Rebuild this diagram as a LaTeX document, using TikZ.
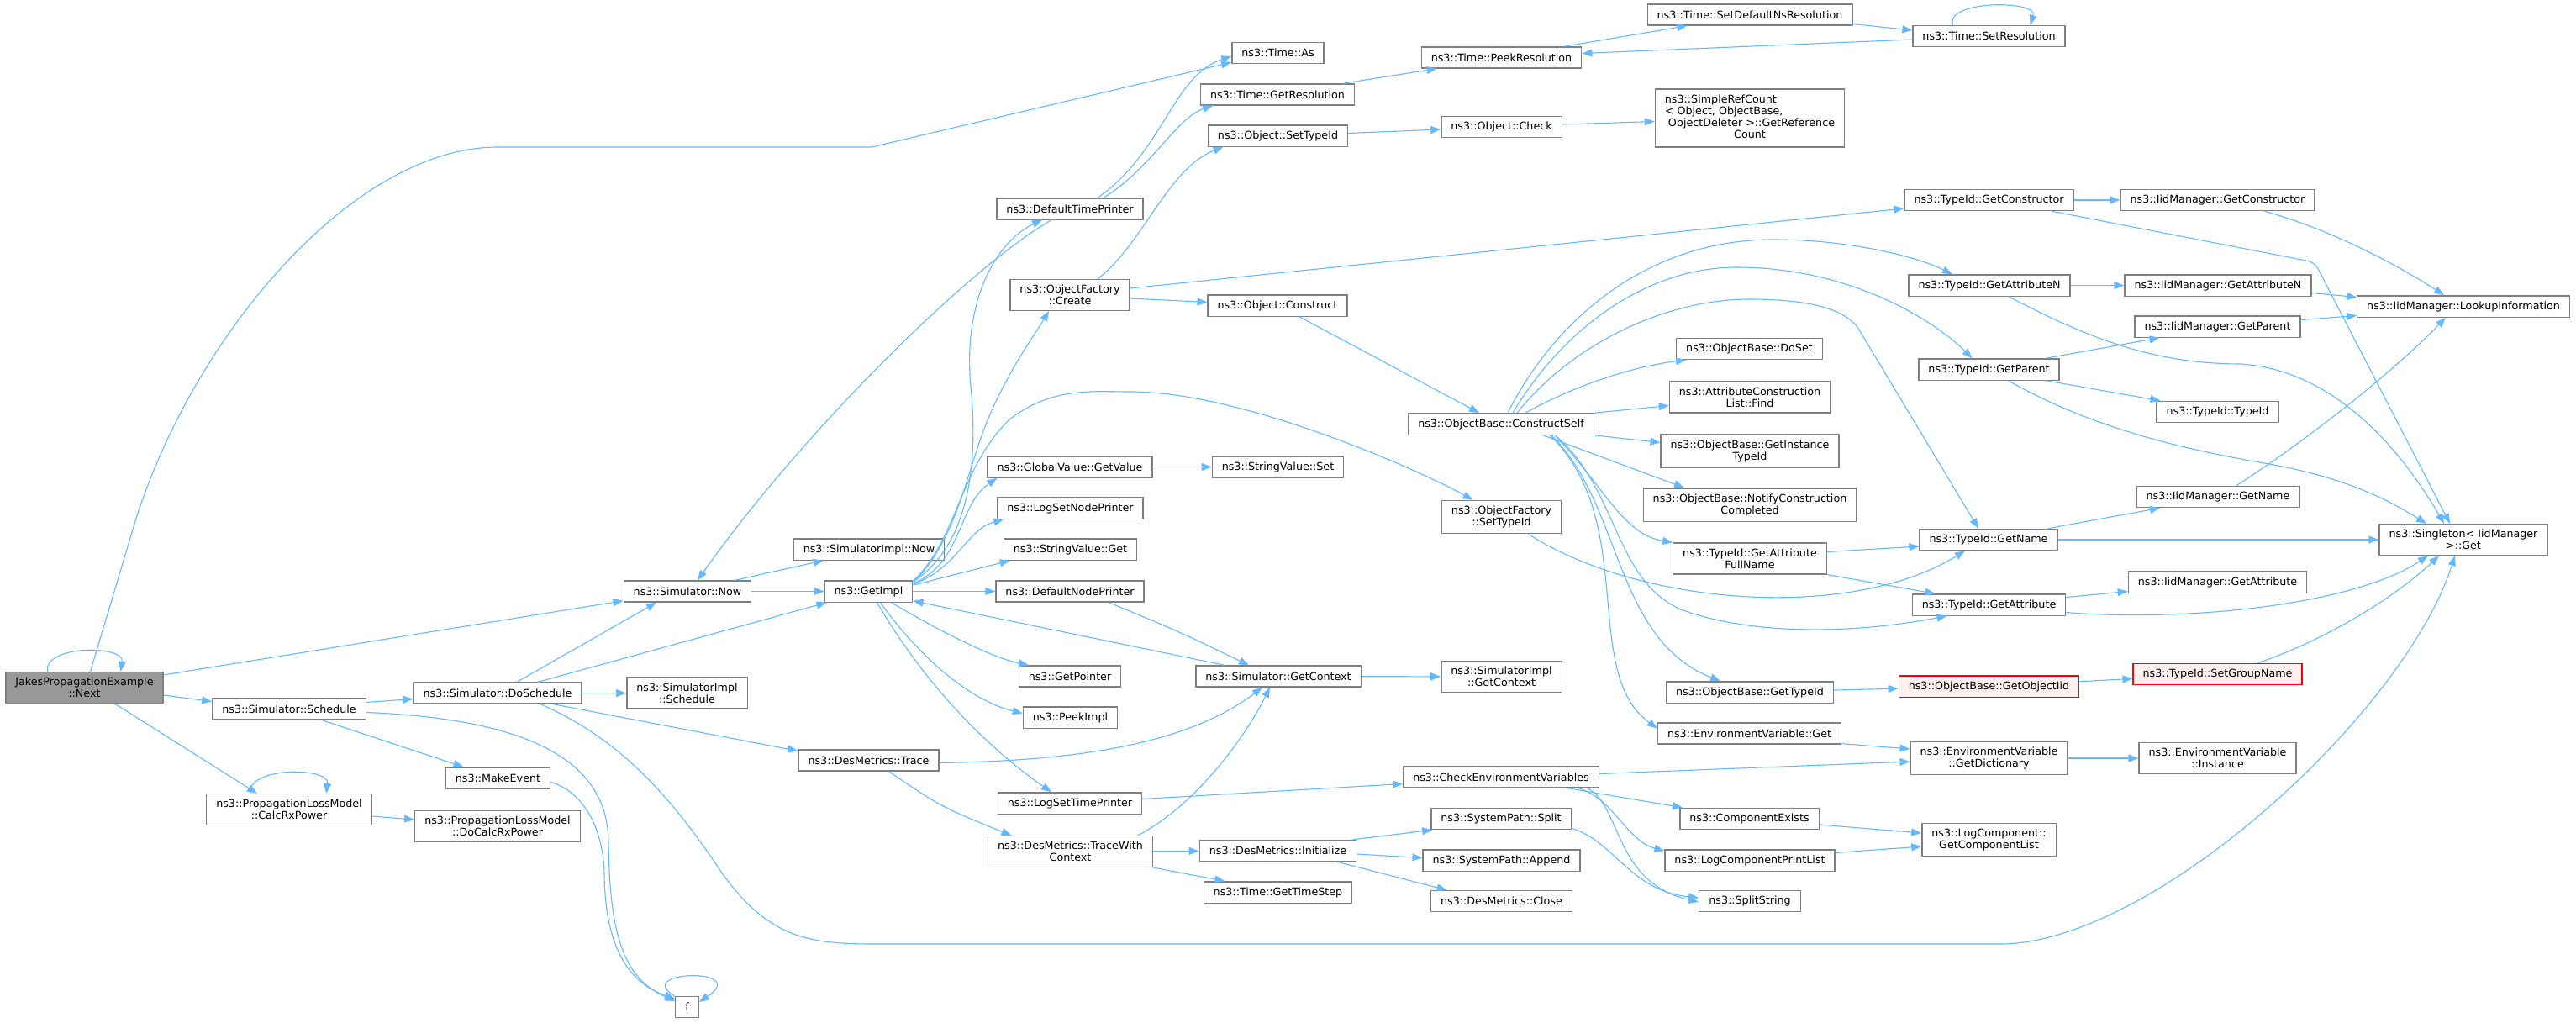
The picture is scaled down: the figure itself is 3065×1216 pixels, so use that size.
\documentclass[tikz,border=0pt]{standalone}
\usepackage{fontspec}
\setmainfont{DejaVu Sans}
\usetikzlibrary{arrows.meta}

\definecolor{edgeblue}{HTML}{63B8FF}
\definecolor{boxgray}{HTML}{7F7F7F}
\definecolor{rootgray}{HTML}{999999}
\definecolor{warnred}{HTML}{FF0000}
\definecolor{warnfill}{HTML}{FFF0F0}

\begin{document}
\begin{tikzpicture}
    % Estilos para funciones y llamadas
    \tikzset{
      func/.style={
        draw=boxgray, line width=1.3pt, fill=white, align=center,
        font=\fontsize{12.7}{14}\selectfont,
        inner xsep=11.5pt, inner ysep=6.5pt, minimum height=25pt
      },
      rootfunc/.style={func, fill=rootgray},
      warnfunc/.style={func, draw=warnred, fill=warnfill},
      callarrow/.style={
        draw=edgeblue, line width=1.1pt,
        -{Triangle[length=12pt, width=9pt]}
      }
    }

    \begin{scope}[x=1pt, y=-1pt]
      \useasboundingbox (0,0) rectangle (3065,1216);

      % Columna 1-3
      \node[rootfunc] (next) at (100.5,818) {JakesPropagationExample\\::Next};
      \node[func] (schedule) at (344,843.5) {ns3::Simulator::Schedule};
      \node[func] (calcrx) at (344,963) {ns3::PropagationLossModel\\::CalcRxPower};
      \node[func] (dosched) at (592,824.5) {ns3::Simulator::DoSchedule};
      \node[func] (makeevent) at (592.5,925.5) {ns3::MakeEvent};
      \node[func] (docalcrx) at (592,983) {ns3::PropagationLossModel\\::DoCalcRxPower};

      % Columna 4-5
      \node[func] (simnow) at (818,703.5) {ns3::Simulator::Now};
      \node[func] (implsched) at (817.5,824.5) {ns3::SimulatorImpl\\::Schedule};
      \node[func] (f) at (817.5,1198) {f};
      \node[func] (implnow) at (1034,653.5) {ns3::SimulatorImpl::Now};
      \node[func] (getimpl) at (1033.5,703.5) {ns3::GetImpl};
      \node[func] (dmtrace) at (1033.5,904.5) {ns3::DesMetrics::Trace};

      % Columna 6
      \node[func] (deftime) at (1273,248.5) {ns3::DefaultTimePrinter};
      \node[func] (ofcreate) at (1273,351) {ns3::ObjectFactory\\::Create};
      \node[func] (gvget) at (1273,555.5) {ns3::GlobalValue::GetValue};
      \node[func] (lognode) at (1273.5,604.5) {ns3::LogSetNodePrinter};
      \node[func] (svget) at (1273.5,653.5) {ns3::StringValue::Get};
      \node[func] (defnode) at (1273,703.5) {ns3::DefaultNodePrinter};
      \node[func] (getpointer) at (1273,804.5) {ns3::GetPointer};
      \node[func] (peekimpl) at (1273.5,853.5) {ns3::PeekImpl};
      \node[func] (logtime) at (1273,955.5) {ns3::LogSetTimePrinter};
      \node[func] (tracewc) at (1273.5,1013) {ns3::DesMetrics::TraceWith\\Context};

      % Columna 7
      \node[func] (timeas) at (1520.5,63) {ns3::Time::As};
      \node[func] (getres) at (1520,112.5) {ns3::Time::GetResolution};
      \node[func] (objsettid) at (1520.5,161.5) {ns3::Object::SetTypeId};
      \node[func] (objconstruct) at (1520,363.5) {ns3::Object::Construct};
      \node[func] (svset) at (1520.5,555.5) {ns3::StringValue::Set};
      \node[func] (getctx) at (1521,804.5) {ns3::Simulator::GetContext};
      \node[func] (dminit) at (1520.5,1012) {ns3::DesMetrics::Initialize};
      \node[func] (timestep) at (1520.5,1061.5) {ns3::Time::GetTimeStep};

      % Columna 8
      \node[func] (peekres) at (1786.5,68.5) {ns3::Time::PeekResolution};
      \node[func] (objcheck) at (1786.5,151) {ns3::Object::Check};
      \node[func] (constructself) at (1786,504.5) {ns3::ObjectBase::ConstructSelf};
      \node[func] (ofsettid) at (1786.5,615) {ns3::ObjectFactory\\::SetTypeId};
      \node[func] (implgetctx) at (1786.5,805) {ns3::SimulatorImpl\\::GetContext};
      \node[func] (checkenv) at (1786,924.5) {ns3::CheckEnvironmentVariables};
      \node[func] (spsplit) at (1786,974) {ns3::SystemPath::Split};
      \node[func] (spappend) at (1786.5,1023.5) {ns3::SystemPath::Append};
      \node[func] (dmclose) at (1786.5,1072) {ns3::DesMetrics::Close};

      % Columna 9
      \node[func] (setdefns) at (2082,17.5) {ns3::Time::SetDefaultNsResolution};
      \node[func] (refcount) at (2082,140.5) {\begin{tabular}{@{}l@{}}ns3::SimpleRefCount\\< Object, ObjectBase,\\\ ObjectDeleter >::GetReference\\\multicolumn{1}{@{}c@{}}{Count}\end{tabular}};
      \node[func] (doset) at (2081.5,415) {ns3::ObjectBase::DoSet};
      \node[func] (acfind) at (2082,472.5) {ns3::AttributeConstruction\\List::Find};
      \node[func] (getinst) at (2082,536.5) {ns3::ObjectBase::GetInstance\\TypeId};
      \node[func] (notifycc) at (2082,600.5) {ns3::ObjectBase::NotifyConstruction\\Completed};
      \node[func] (attrfull) at (2082,664.5) {ns3::TypeId::GetAttribute\\FullName};
      \node[func] (obgettid) at (2082,823.5) {ns3::ObjectBase::GetTypeId};
      \node[func] (envget) at (2081.5,872.5) {ns3::EnvironmentVariable::Get};
      \node[func] (compexists) at (2081.5,974) {ns3::ComponentExists};
      \node[func] (logprint) at (2082,1023.5) {ns3::LogComponentPrintList};
      \node[func] (splitstr) at (2082,1072) {ns3::SplitString};

      % Columna 10
      \node[func] (setres) at (2366.5,43) {ns3::Time::SetResolution};
      \node[func] (tidctor) at (2366.5,238) {ns3::TypeId::GetConstructor};
      \node[func] (tidattrn) at (2367,339.5) {ns3::TypeId::GetAttributeN};
      \node[func] (tidparent) at (2366.5,439.5) {ns3::TypeId::GetParent};
      \node[func] (tidname) at (2366,642) {ns3::TypeId::GetName};
      \node[func] (tidattr) at (2366.5,719.5) {ns3::TypeId::GetAttribute};
      \node[warnfunc] (getobjiid) at (2366.5,816.5) {ns3::ObjectBase::GetObjectIid};
      \node[func] (getdict) at (2366.5,902) {ns3::EnvironmentVariable\\::GetDictionary};
      \node[func] (complist) at (2366.5,999) {ns3::LogComponent::\\GetComponentList};

      % Columna 11-12
      \node[func] (iidctor) at (2638.5,238) {ns3::IidManager::GetConstructor};
      \node[func] (iidattrn) at (2639,339.5) {ns3::IidManager::GetAttributeN};
      \node[func] (iidparent) at (2638.5,388.5) {ns3::IidManager::GetParent};
      \node[func] (tidtypeid) at (2638.5,490) {ns3::TypeId::TypeId};
      \node[func] (iidname) at (2639,591) {ns3::IidManager::GetName};
      \node[func] (iidattr) at (2638.5,692.5) {ns3::IidManager::GetAttribute};
      \node[warnfunc] (setgroup) at (2638.5,802) {ns3::TypeId::SetGroupName};
      \node[func] (envinst) at (2638.5,902) {ns3::EnvironmentVariable\\::Instance};
      \node[func] (lookup) at (2931,364.5) {ns3::IidManager::LookupInformation};
      \node[func] (singleton) at (2931,642) {ns3::Singleton< IidManager\\ >::Get};

      % Llamadas desde JakesPropagationExample::Next
      \draw[callarrow] ([xshift=-44pt]next.north) .. controls +(-5,-32) and +(5,-32) .. ([xshift=43pt]next.north);
      \draw[callarrow] ([xshift=7pt]next.north) -- (161,620) .. controls (230,400) and (420,175) .. (592,175) -- (1037,175) -- ([yshift=2pt]timeas.south west);
      \draw[callarrow] ([yshift=-4pt]next.north east) -- ([yshift=2pt]simnow.south west);
      \draw[callarrow] ([yshift=-9pt]next.east) -- ([yshift=9pt]schedule.west);
      \draw[callarrow] ([xshift=36pt]next.south) -- ([xshift=-38pt]calcrx.north);

      % PropagationLossModel
      \draw[callarrow] ([xshift=-46pt]calcrx.north) .. controls +(-5,-32) and +(5,-32) .. ([xshift=44pt]calcrx.north);
      \draw[callarrow] ([yshift=-8pt]calcrx.east) -- ([yshift=8pt]docalcrx.west);

      % Simulator::Schedule
      \draw[callarrow] ([yshift=8pt]schedule.east) -- ([yshift=-7pt]dosched.west);
      \draw[callarrow] ([xshift=39pt]schedule.south) -- ([xshift=-41pt]makeevent.north);
      \draw[callarrow] ([yshift=-4pt]schedule.east) .. controls (620,855) and (722,900) .. (724,1000) .. controls (725,1120) and (745,1165) .. ([yshift=7pt]f.west);
      \draw[callarrow] ([yshift=-5pt]makeevent.east) .. controls (690,940) and (718,980) .. (719,1040) .. controls (720,1130) and (750,1170) .. ([yshift=10pt]f.west);
      \draw[callarrow] (f.north west) .. controls +(-53,-30) and +(63,-42) .. ([yshift=6pt]f.east);

      % Simulator::DoSchedule
      \draw[callarrow] ([xshift=23pt]dosched.north) -- ([xshift=-37pt]simnow.south);
      \draw[callarrow] ([xshift=48pt]dosched.north) -- ([xshift=3pt]getimpl.south west);
      \draw[callarrow] (dosched) -- (implsched);
      \draw[callarrow] ([xshift=66pt]dosched.south) -- ([yshift=-2pt]dmtrace.north west);
      \draw[callarrow] ([xshift=51pt]dosched.south) .. controls (740,880) and (800,950) .. (860,1040) .. controls (915,1115) and (960,1123) .. (1040,1123) -- (2380,1123) .. controls (2560,1123) and (2860,850) .. ([xshift=-10pt]singleton.south);

      % Simulator::Now
      \draw[callarrow] ([xshift=56pt]simnow.north) -- ([xshift=36pt]implnow.south west);
      \draw[callarrow] (simnow) -- (getimpl);
      \draw[callarrow] ([xshift=-22pt]deftime.south) .. controls (1150,320) and (950,520) .. ([xshift=12pt]simnow.north);

      % GetImpl
      \draw[callarrow] ([yshift=-2pt]getimpl.north east) .. controls (1150,650) and (1165,560) .. (1155,460) .. controls (1145,350) and (1190,285) .. ([xshift=-33pt]deftime.south);
      \draw[callarrow] ([yshift=-3pt]getimpl.north east) .. controls (1140,640) and (1150,560) .. (1175,500) .. controls (1200,440) and (1230,400) .. ([xshift=-25pt]ofcreate.south);
      \draw[callarrow] ([yshift=-1pt]getimpl.north east) .. controls (1140,640) and (1140,560) .. (1200,500) .. controls (1250,460) and (1300,466) .. (1345,466) .. controls (1480,466) and (1690,560) .. ([xshift=-34pt]ofsettid.north);
      \draw[callarrow] ([yshift=-4pt]getimpl.north east) .. controls (1145,670) and (1140,600) .. ([xshift=12pt]gvget.south west);
      \draw[callarrow] ([yshift=-5pt]getimpl.north east) .. controls (1140,675) and (1150,630) .. ([xshift=8pt]lognode.south west);
      \draw[callarrow] ([yshift=-6pt]getimpl.north east) -- ([xshift=8pt]svget.south west);
      \draw[callarrow] (getimpl) -- (defnode);
      \draw[callarrow] ([xshift=27pt]getimpl.south) .. controls (1120,752) and (1180,782) .. ([xshift=-49pt]getpointer.north);
      \draw[callarrow] ([xshift=14pt]getimpl.south) .. controls (1100,790) and (1160,835) .. ([yshift=5pt]peekimpl.west);
      \draw[callarrow] ([xshift=10pt]getimpl.south) .. controls (1110,830) and (1190,900) .. ([xshift=-22pt]logtime.north);

      % Simulator::GetContext y DesMetrics
      \draw[callarrow] ([xshift=-64pt]getctx.north) -- ([yshift=2pt]getimpl.south east);
      \draw[callarrow] ([xshift=46pt]defnode.south) .. controls (1400,750) .. ([xshift=-35pt]getctx.north);
      \draw[callarrow] (getctx) -- (implgetctx);
      \draw[callarrow] ([yshift=-3pt]dmtrace.east) .. controls (1300,905) and (1420,880) .. ([xshift=-19pt]getctx.south);
      \draw[callarrow] ([xshift=24pt]dmtrace.south) .. controls (1120,960) .. ([xshift=-70pt]tracewc.north);
      \draw[callarrow] ([xshift=80pt]tracewc.north) .. controls (1420,960) and (1480,880) .. ([xshift=-10pt]getctx.south);
      \draw[callarrow] (tracewc) -- (dminit);
      \draw[callarrow] (tracewc.south east) -- ([xshift=-63pt]timestep.north);
      \draw[callarrow] ([yshift=5pt]logtime.east) -- ([yshift=-8pt]checkenv.west);

      % DesMetrics::Initialize
      \draw[callarrow] ([xshift=-5pt]dminit.north east) -- ([xshift=2pt]spsplit.south west);
      \draw[callarrow] ([yshift=-4pt]dminit.east) -- ([yshift=3pt]spappend.west);
      \draw[callarrow] ([xshift=70pt]dminit.south) -- ([xshift=-65pt]dmclose.north);
      \draw[callarrow] ([yshift=2pt]spsplit.south east) .. controls (1920,1000) and (1940,1060) .. ([yshift=4pt]splitstr.west);

      % CheckEnvironmentVariables
      \draw[callarrow] ([xshift=103pt]checkenv.south) .. controls (1930,960) and (1920,1050) .. ([yshift=-1pt]splitstr.west);
      \draw[callarrow] ([yshift=4pt]checkenv.east) -- ([yshift=-4pt]getdict.west);
      \draw[callarrow] ([xshift=79pt]checkenv.south) -- ([xshift=4pt]compexists.north west);
      \draw[callarrow] ([xshift=92pt]checkenv.south) .. controls (1920,950) and (1935,1000) .. ([yshift=-2pt]logprint.north west);
      \draw[callarrow] ([yshift=-7pt]compexists.east) -- ([yshift=8pt]complist.west);
      \draw[callarrow] ([yshift=9pt]logprint.east) -- ([yshift=-8pt]complist.west);
      \draw[callarrow] ([yshift=1pt]envget.south east) -- ([yshift=11pt]getdict.west);
      \draw[callarrow] (getdict) -- (envinst);

      % Time
      \draw[callarrow] ([xshift=33pt]deftime.north) .. controls (1385,180) and (1395,90) .. ([yshift=-4pt]timeas.west);
      \draw[callarrow] ([xshift=40pt]deftime.north) .. controls (1370,200) and (1400,140) .. ([xshift=15pt]getres.south west);
      \draw[callarrow] ([xshift=-15pt]getres.north east) -- ([xshift=19pt]peekres.south west);
      \draw[callarrow] ([xshift=-22pt]peekres.north east) -- ([xshift=48pt]setdefns.south west);
      \draw[callarrow] ([yshift=-11pt]setdefns.east) -- ([yshift=7pt]setres.west);
      \draw[callarrow] ([yshift=-4pt]setres.west) -- ([yshift=5pt]peekres.east);
      \draw[callarrow] ([xshift=-43pt]setres.north) .. controls +(-10,-30) and +(10,-30) .. ([xshift=49pt]setres.north);

      % ObjectFactory y Object
      \draw[callarrow] ([xshift=33pt]ofcreate.north) .. controls (1360,290) and (1390,200) .. ([xshift=-65pt]objsettid.south);
      \draw[callarrow] ([yshift=8pt]ofcreate.east) -- ([yshift=-10pt]tidctor.west);
      \draw[callarrow] ([yshift=-4pt]ofcreate.east) -- ([yshift=4pt]objconstruct.west);
      \draw[callarrow] ([yshift=3pt]objsettid.east) -- ([yshift=-3pt]objcheck.west);
      \draw[callarrow] ([yshift=3pt]objcheck.east) -- ([yshift=-4pt]refcount.west);
      \draw[callarrow] ([xshift=26pt]objconstruct.south) -- ([xshift=-26pt]constructself.north);
      \draw[callarrow] ([xshift=32pt]ofsettid.south) .. controls (1950,720) and (2200,740) .. ([xshift=-28pt]tidname.south);

      % ObjectBase::ConstructSelf
      \draw[callarrow] ([xshift=8pt]constructself.north) .. controls (1850,380) and (1960,285) .. (2110,285) .. controls (2200,285) and (2280,305) .. ([xshift=-44pt]tidattrn.north);
      \draw[callarrow] ([xshift=14pt]constructself.north) .. controls (1860,390) and (1960,318) .. (2066,318) .. controls (2200,318) and (2300,380) .. ([xshift=-20pt]tidparent.north);
      \draw[callarrow] ([xshift=19pt]constructself.north) .. controls (1870,410) and (1980,356) .. (2082,356) .. controls (2160,356) and (2195,370) .. (2210,389) -- ([xshift=-12pt]tidname.north);
      \draw[callarrow] ([xshift=29pt]constructself.north) .. controls (1880,455) and (1950,435) .. ([xshift=12pt]doset.south west);
      \draw[callarrow] (constructself.north east) -- ([yshift=-10pt]acfind.west);
      \draw[callarrow] (constructself.south east) -- ([yshift=10pt]getinst.west);
      \draw[callarrow] ([xshift=50pt]constructself.south) -- ([xshift=-78pt]notifycc.north);
      \draw[callarrow] ([xshift=64pt]constructself.south) .. controls (1910,580) and (1930,635) .. (attrfull.north west);
      \draw[callarrow] ([xshift=64pt]constructself.south) .. controls (1925,580) and (1920,690) .. (2000,725) .. controls (2080,755) and (2200,755) .. ([xshift=-50pt]tidattr.south);
      \draw[callarrow] ([xshift=60pt]constructself.south) .. controls (1930,600) and (1920,760) .. ([xshift=-35pt]obgettid.north);
      \draw[callarrow] ([xshift=58pt]constructself.south) .. controls (1950,620) and (1880,800) .. ([yshift=6pt]envget.west);

      % TypeId e IidManager
      \draw[callarrow] ([yshift=8pt]attrfull.east) -- ([yshift=-8pt]tidname.west);
      \draw[callarrow] (attrfull.south east) -- ([xshift=-64pt]tidattr.north);
      \draw[callarrow] (obgettid) -- (getobjiid);
      \draw[callarrow] (getobjiid) -- (setgroup);
      \draw[callarrow] ([xshift=48pt]setgroup.north) .. controls (2770,760) and (2850,710) .. ([xshift=-29pt]singleton.south);
      \draw[callarrow] ([xshift=71pt]tidname.north) -- ([xshift=-69pt]iidname.south);
      \draw[callarrow] (tidname) -- (singleton);
      \draw[callarrow] ([yshift=9pt]tidattr.east) -- ([yshift=-11pt]iidattr.west);
      \draw[callarrow] ([yshift=-9pt]tidattr.east) .. controls (2600,740) and (2800,720) .. ([xshift=-42pt]singleton.south);
      \draw[callarrow] (tidctor) -- (iidctor);
      \draw[callarrow, rounded corners=8pt] ([xshift=75pt]tidctor.south) -- (2754,312) -- ([xshift=-16pt]singleton.north);
      \draw[callarrow] ([xshift=56pt]iidctor.south) .. controls (2780,275) and (2860,320) .. ([xshift=-23pt]lookup.north);
      \draw[callarrow] (tidattrn) -- (iidattrn);
      \draw[callarrow] ([xshift=23pt]tidattrn.south) .. controls (2480,400) and (2560,433) .. (2666,433) .. controls (2780,440) and (2860,540) .. ([xshift=-23pt]singleton.north);
      \draw[callarrow] ([yshift=-9pt]iidattrn.east) -- ([yshift=11pt]lookup.west);
      \draw[callarrow] ([yshift=8pt]iidparent.east) -- ([yshift=-11pt]lookup.west);
      \draw[callarrow] ([xshift=68pt]tidparent.north) -- ([xshift=-69pt]iidparent.south);
      \draw[callarrow] ([xshift=68pt]tidparent.south) -- ([xshift=-68pt]tidtypeid.north);
      \draw[callarrow] ([xshift=23pt]tidparent.south) .. controls (2490,510) and (2600,535) .. (2700,552) .. controls (2800,570) and (2850,600) .. ([xshift=-44pt]singleton.north);
      \draw[callarrow] ([xshift=22pt]iidname.north) .. controls (2750,520) and (2850,440) .. ([xshift=-21pt]lookup.south);
      \draw[callarrow] (gvget) -- (svset);
    \end{scope}
\end{tikzpicture}
\end{document}
